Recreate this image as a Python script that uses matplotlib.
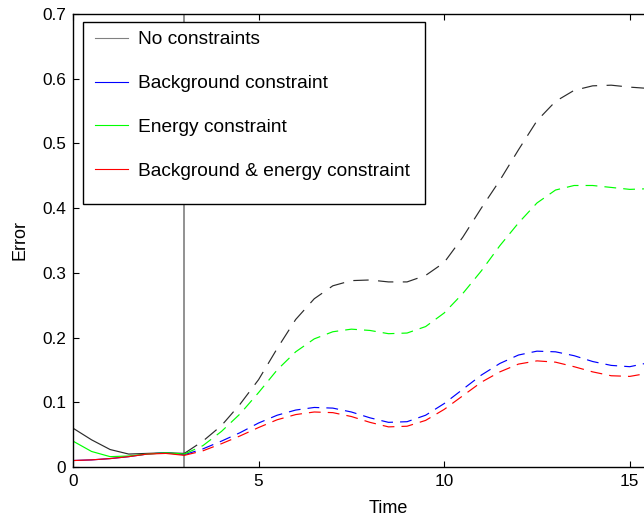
import matplotlib
matplotlib.use("Agg")
import matplotlib.pyplot as plt
from matplotlib.lines import Line2D
from matplotlib.patches import Rectangle

plt.rcParams["font.family"] = ["Liberation Sans", "DejaVu Sans"]

# ---------------------------------------------------------------------------
# Data
# ---------------------------------------------------------------------------

time = [0.0, 0.5, 1.0, 1.5, 2.0, 2.5, 3.0, 3.5, 4.0, 4.5, 5.0, 5.5, 6.0, 6.5,
        7.0, 7.5, 8.0, 8.5, 9.0, 9.5, 10.0, 10.5, 11.0, 11.5, 12.0, 12.5,
        13.0, 13.5, 14.0, 14.5, 15.0, 15.5, 16.0]

err_none = [0.060, 0.042, 0.027, 0.020, 0.021, 0.022, 0.021, 0.040, 0.064,
            0.097, 0.135, 0.183, 0.228, 0.260, 0.280, 0.288, 0.289, 0.286,
            0.286, 0.296, 0.316, 0.355, 0.400, 0.443, 0.490, 0.535, 0.565,
            0.582, 0.589, 0.590, 0.587, 0.585, 0.585]

err_background = [0.010, 0.011, 0.013, 0.016, 0.020, 0.022, 0.019, 0.028,
                  0.040, 0.053, 0.068, 0.080, 0.088, 0.092, 0.091, 0.085,
                  0.076, 0.069, 0.070, 0.080, 0.098, 0.120, 0.142, 0.160,
                  0.173, 0.179, 0.178, 0.172, 0.163, 0.157, 0.155, 0.161,
                  0.170]

err_energy = [0.040, 0.024, 0.016, 0.017, 0.020, 0.022, 0.020, 0.033, 0.055,
              0.082, 0.115, 0.150, 0.178, 0.198, 0.209, 0.213, 0.211, 0.206,
              0.207, 0.217, 0.238, 0.268, 0.303, 0.342, 0.377, 0.408, 0.428,
              0.435, 0.435, 0.432, 0.429, 0.430, 0.432]

err_both = [0.010, 0.011, 0.013, 0.016, 0.020, 0.021, 0.018, 0.025, 0.036,
            0.048, 0.061, 0.073, 0.081, 0.085, 0.084, 0.078, 0.069, 0.062,
            0.063, 0.072, 0.089, 0.110, 0.131, 0.147, 0.159, 0.164, 0.162,
            0.155, 0.147, 0.141, 0.140, 0.145, 0.153]

labels = ["No constraints", "Background constraint", "Energy constraint",
          "Background & energy constraint"]
series = [err_none, err_background, err_energy, err_both]
colors = ["#2b2b2b", "#0000ff", "#00ff00", "#ff0000"]
dash_styles = [(13, 8), (10, 6), (10, 6), (10, 6)]

t_split = 3.0  # solid before, dashed after

# ---------------------------------------------------------------------------
# Plot
# ---------------------------------------------------------------------------

W, H = 644, 521
fig = plt.figure(figsize=(W / 100, H / 100), dpi=100)
ax = fig.add_axes([73 / W, 1 - 467 / H, 631 / W, 453 / H])

ax.axvline(t_split, color="#7f7f7f", lw=1.2, zorder=1.5)

for ys, c, ds in zip(series, colors, dash_styles):
    pre = [(t, y) for t, y in zip(time, ys) if t <= t_split]
    post = [(t, y) for t, y in zip(time, ys) if t >= t_split]
    ax.plot(*zip(*pre), color=c, lw=0.85, zorder=2)
    ax.plot(*zip(*post), color=c, lw=0.85, dashes=ds, zorder=2)

ax.set_xlim(0, 17)
ax.set_ylim(0, 0.7)
ax.set_xticks([0, 5, 10, 15])
ax.set_yticks([0, 0.1, 0.2, 0.3, 0.4, 0.5, 0.6, 0.7])
ax.set_yticklabels(["0", "0.1", "0.2", "0.3", "0.4", "0.5", "0.6", "0.7"])
ax.tick_params(direction="in", top=True, right=True, length=4, width=0.8,
               labelsize=12.4, pad=5)
for sp in ax.spines.values():
    sp.set_linewidth(1.0)
ax.set_xlabel("Time", fontsize=13, labelpad=8)
ax.set_ylabel("Error", fontsize=13, labelpad=10)

# legend box drawn by hand (MATLAB-style extra space at the bottom)
frame = Rectangle((83 / W, 1 - 204 / H), 342 / W, 182 / H,
                  transform=fig.transFigure, facecolor="white",
                  edgecolor="black", lw=1.0, zorder=4, clip_on=False)
ax.add_patch(frame)

handles = [Line2D([], [], color=c, lw=0.8) for c in ["#808080"] + colors[1:]]
leg = ax.legend(handles, labels, loc="upper left",
                bbox_to_anchor=(95 / W, 1 - 31 / H),
                bbox_transform=fig.transFigure, frameon=False, fontsize=13.8,
                borderpad=0, borderaxespad=0, handlelength=1.72,
                handletextpad=0.52, labelspacing=1.38)
leg.set_zorder(5)

fig.savefig("out.png", dpi=100)
